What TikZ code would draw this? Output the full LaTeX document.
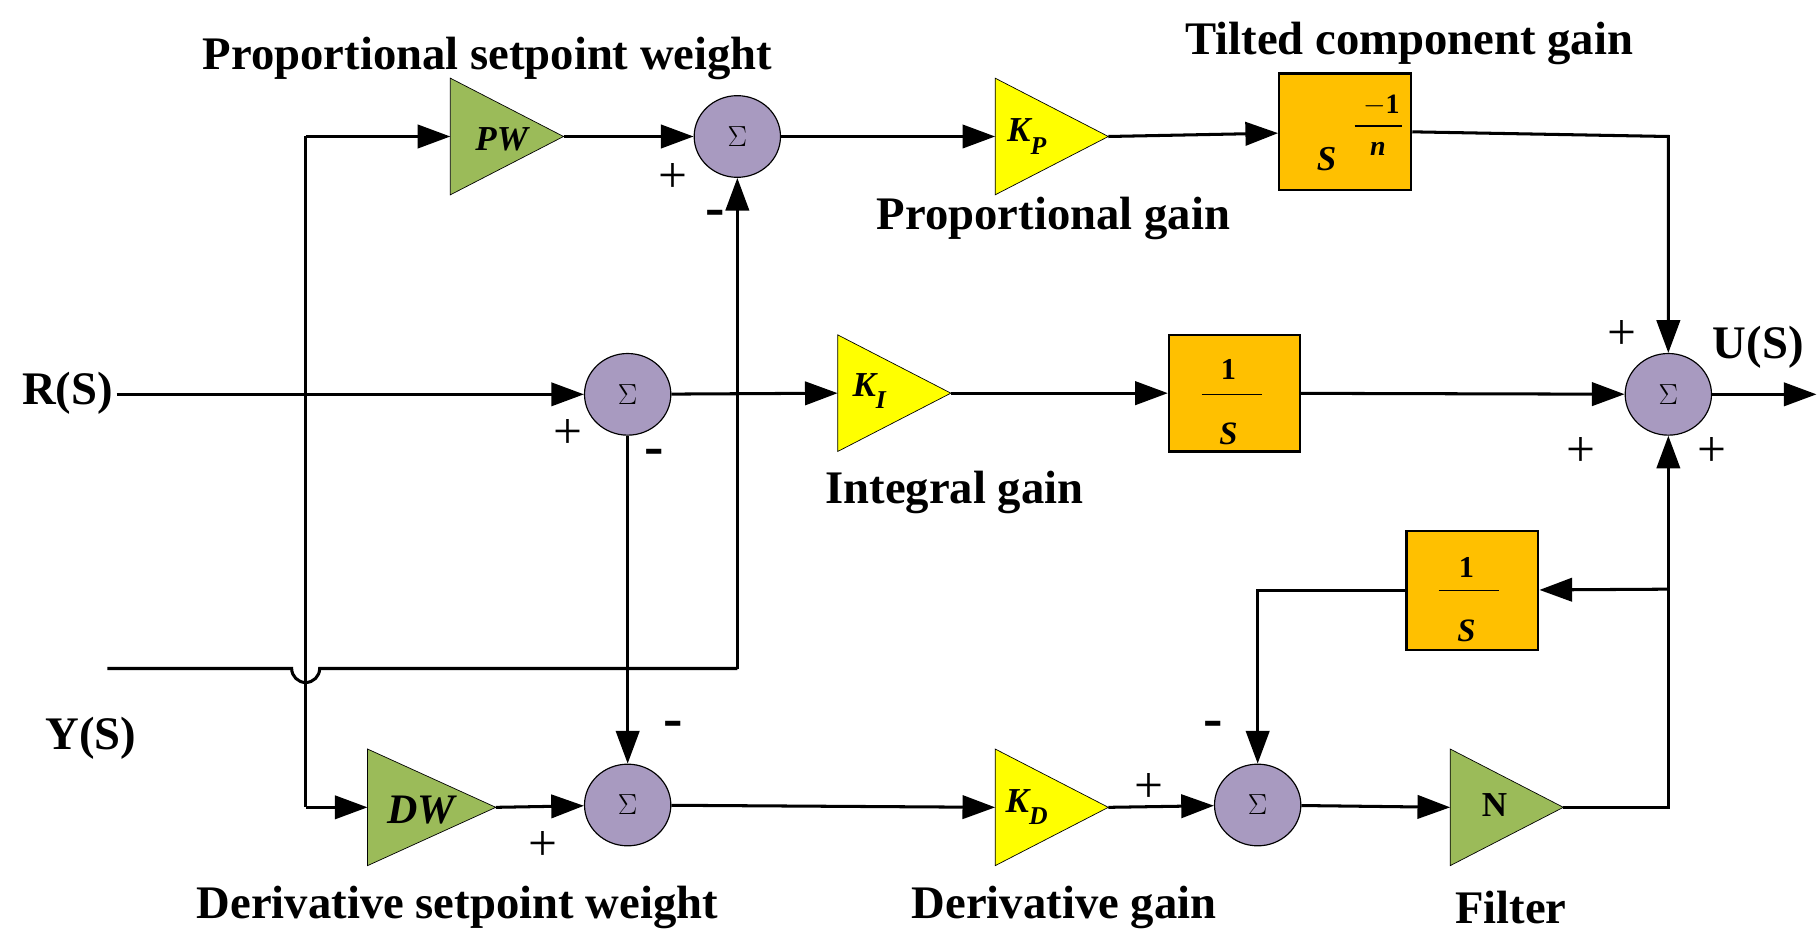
\documentclass[tikz,border=0pt]{standalone}
\usepackage{fontspec}
\setmainfont{Liberation Serif}
\usetikzlibrary{arrows.meta,shapes.geometric}
\definecolor{gr}{HTML}{9BBB59}
\definecolor{ye}{HTML}{FFFF00}
\definecolor{orb}{HTML}{FFC000}
\definecolor{pu}{HTML}{A89AC0}
\begin{document}
\begin{tikzpicture}[x=1pt,y=-1pt,
  wire/.style={line width=2.6pt},
  arr/.style={wire,-{Triangle[length=28pt,width=20pt]}},
  sum/.style={ellipse,draw=black,line width=1pt,fill=pu,minimum width=74pt,minimum height=70pt,inner sep=0pt,font=\fontsize{44}{44}\selectfont},
  box/.style={draw=black,line width=2pt,fill=orb,inner sep=0pt},
  lbl/.style={font=\bfseries\fontsize{40}{44}\selectfont},
  sgn/.style={font=\fontsize{44}{44}\selectfont},
  tin/.style={font=\bfseries\itshape\fontsize{30}{30}\selectfont}]
\useasboundingbox (0,0) rectangle (1560,812.6);
% triangles
\newcommand{\tri}[5]{\filldraw[fill=#4,draw=black,line width=0.6pt] (#1,#2-50) -- (#1+#3,#2) -- (#1,#2+50) -- cycle;
  \coordinate (#5in) at (#1,#2); \coordinate (#5out) at (#1+#3,#2);}
\tri{386}{117}{97}{gr}{pw}
\tri{853}{117}{97}{ye}{kp}
\tri{718}{337}{97}{ye}{ki}
\tri{315}{692}{110}{gr}{dw}
\tri{853}{692}{97}{ye}{kd}
\tri{1243}{692}{97}{gr}{nf}
\node[tin] at (430,119) {PW};
\node[tin] at (880,117) {K\raisebox{-0.35em}{\fontsize{22}{22}\selectfont P}};
\node[tin] at (745,335) {K\raisebox{-0.35em}{\fontsize{22}{22}\selectfont I}};
\node[tin,font=\bfseries\itshape\fontsize{36}{36}\selectfont] at (361,694) {DW};
\node[tin] at (880,692) {K\raisebox{-0.35em}{\fontsize{22}{22}\selectfont D}};
\node[font=\bfseries\fontsize{30}{30}\selectfont] at (1281,690) {N};
% sums
\node[sum] (s1) at (632,117) {$\Sigma$};
\node[sum] (s2) at (538,338) {$\Sigma$};
\node[sum] (s3) at (538,690) {$\Sigma$};
\node[sum] (s4) at (1078,690) {$\Sigma$};
\node[sum] (so) at (1430,338) {$\Sigma$};
% boxes
\node[box,minimum width=113pt,minimum height=100pt] (tb) at (1153,113) {};
\node[font=\bfseries\itshape\fontsize{30}{30}\selectfont] at (1137,136) {S};
\node[font=\bfseries\fontsize{24}{24}\selectfont] at (1184,90) {$\mathbf{-}$1};
\draw[line width=1pt] (1161,108) -- (1202,108);
\node[font=\bfseries\itshape\fontsize{24}{24}\selectfont] at (1181,128) {n};
\node[box,minimum width=112pt,minimum height=100pt] (ib) at (1058,337) {};
\node[font=\bfseries\fontsize{26}{26}\selectfont] at (1053,317) {1};
\draw[line width=1pt] (1030,338) -- (1082,338);
\node[font=\bfseries\itshape\fontsize{28}{28}\selectfont] at (1053,372) {S};
\node[box,minimum width=113pt,minimum height=102pt] (fb) at (1262,506) {};
\node[font=\bfseries\fontsize{26}{26}\selectfont] at (1257,486) {1};
\draw[line width=1pt] (1233,506) -- (1285,506);
\node[font=\bfseries\itshape\fontsize{28}{28}\selectfont] at (1257,541) {S};
% coordinates
\coordinate (rin) at (100,338);
\coordinate (br) at (262,338);
\coordinate (yin) at (92,573);
\coordinate (j1) at (250,573);
\coordinate (j2) at (274,573);
\coordinate (yc) at (632,573);
\coordinate (out) at (1557,338);
\coordinate (fbt) at (1430,505);
% wires
\draw[arr] (rin) -- (s2);
\draw[wire] (262,117) -- (262,692);
\draw[arr] (262,117) -- (pwin);
\draw[arr] (262,692) -- (dwin);
\draw[arr] (pwout) -- (s1);
\draw[arr] (s1) -- (kpin);
\draw[arr] (kpout) -- (tb);
\draw[arr] (tb.east) -- (1430,117) -- (so);
\draw[arr] (s2) -- (kiin);
\draw[arr] (kiout) -- (ib);
\draw[arr] (ib) -- (so);
\draw[arr] (so) -- (out);
\draw[arr] (s2) -- (s3);
\draw[wire] (yin) -- (j1) arc[start angle=180,end angle=0,radius=12] -- (yc);
\draw[arr] (yc) -- (s1);
\draw[arr] (dwout) -- (s3);
\draw[arr] (s3) -- (kdin);
\draw[arr] (kdout) -- (s4);
\draw[arr] (s4) -- (nfin);
\draw[arr] (nfout) -- (1430,692) -- (so);
\draw[arr] (fbt) -- (fb);
\draw[arr] (fb.west) -- (1078,506) -- (s4);
% signs
\node[sgn] at (577,153) {+};
\node[sgn,font=\bfseries\fontsize{50}{50}\selectfont] at (613,187) {-};
\node[sgn] at (487,372) {+};
\node[sgn,font=\bfseries\fontsize{50}{50}\selectfont] at (561,392) {-};
\node[sgn,font=\bfseries\fontsize{50}{50}\selectfont] at (577,625) {-};
\node[sgn] at (465,725) {+};
\node[sgn] at (985,675) {+};
\node[sgn,font=\bfseries\fontsize{50}{50}\selectfont] at (1040,625) {-};
\node[sgn] at (1390,287) {+};
\node[sgn] at (1355,387) {+};
\node[sgn] at (1467,387) {+};
% labels
\node[lbl] at (418,50) {Proportional setpoint weight};
\node[lbl] at (1208,37) {Tilted component gain};
\node[lbl] at (903,187) {Proportional gain};
\node[lbl] at (818,422) {Integral gain};
\node[lbl] at (392,778) {Derivative setpoint weight};
\node[lbl] at (912,778) {Derivative gain};
\node[lbl] at (1295,778) {Filter};
\node[lbl] at (58,337) {R(S)};
\node[lbl] at (1507,298) {U(S)};
\node[lbl] at (78,633) {Y(S)};
\end{tikzpicture}
\end{document}
